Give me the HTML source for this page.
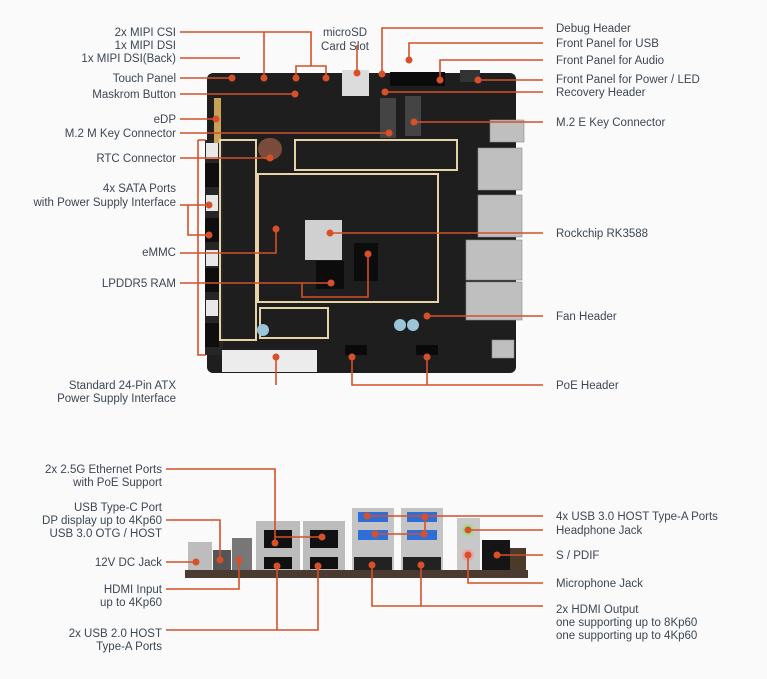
<!DOCTYPE html>
<html><head><meta charset="utf-8"><style>
html,body{margin:0;padding:0;background:#fafafa;}
svg{display:block;}
text{font-family:"Liberation Sans",sans-serif;font-size:11.5px;fill:#3b4753;}
.r{text-anchor:end}
.m{text-anchor:middle}
.l{stroke:#d2502a;stroke-width:1.6;fill:none}
.d{fill:#d8502a}
.g{fill:#bfbfbf;stroke:#8a8a8a;stroke-width:0.6}
.f{fill:none;stroke:#e6d3a8;stroke-width:2}
</style></head><body>
<svg width="767" height="679" viewBox="0 0 767 679" xmlns="http://www.w3.org/2000/svg">
<rect width="767" height="679" fill="#fafafa"/>
<!-- top board -->
<rect x="207" y="73" width="309" height="300" rx="6" fill="#1e1e1e"/>
<rect x="205" y="140" width="18" height="215" fill="#262626"/>
<g fill="#e8e8e8">
<rect x="206" y="143" width="12" height="16"/><rect x="206" y="195" width="12" height="16"/><rect x="206" y="250" width="12" height="16"/><rect x="206" y="300" width="12" height="16"/>
</g>
<g fill="#0e0e0e">
<rect x="205" y="163" width="14" height="24"/><rect x="205" y="218" width="14" height="24"/><rect x="205" y="268" width="14" height="24"/><rect x="205" y="323" width="14" height="24"/>
</g>
<rect x="214" y="98" width="7" height="45" fill="#c9a257"/>
<rect x="222" y="350" width="95" height="22" fill="#ececec"/>
<rect x="342" y="70" width="27" height="26" fill="#dcdcdc"/>
<rect x="380" y="98" width="16" height="40" fill="#444"/>
<rect x="405" y="96" width="16" height="40" fill="#444"/>
<rect x="390" y="72" width="55" height="14" fill="#0b0b0b"/>
<rect x="460" y="70" width="20" height="12" fill="#333"/>
<rect x="258" y="138" width="24" height="22" rx="11" fill="#7a4a3a"/>
<rect class="f" x="258" y="174" width="180" height="128"/>
<rect class="f" x="295" y="140" width="162" height="30"/>
<rect class="f" x="220" y="140" width="36" height="200"/>
<rect class="f" x="260" y="308" width="68" height="30"/>
<rect x="305" y="220" width="37" height="40" fill="#d0d0d0"/>
<rect x="316" y="261" width="28" height="28" fill="#0c0c0c"/>
<rect x="354" y="243" width="24" height="38" fill="#0c0c0c"/>
<g class="g">
<rect x="478" y="148" width="44" height="42"/><rect x="478" y="195" width="44" height="42"/>
<rect x="466" y="240" width="56" height="40"/><rect x="466" y="282" width="56" height="38"/>
<rect x="490" y="120" width="34" height="22"/><rect x="492" y="340" width="22" height="18"/>
</g>
<rect x="345" y="345" width="22" height="10" fill="#0a0a0a"/><rect x="416" y="345" width="22" height="10" fill="#0a0a0a"/>
<circle cx="400" cy="325" r="6" fill="#9bc5d8"/><circle cx="413" cy="325" r="6" fill="#9bc5d8"/><circle cx="263" cy="330" r="6" fill="#9bc5d8"/>
<!-- bottom board -->
<rect x="185" y="570" width="343" height="8" fill="#4a3a30"/>
<rect x="188" y="542" width="24" height="28" fill="#bdbdbd"/>
<rect x="213" y="550" width="18" height="20" fill="#555"/>
<rect x="232" y="538" width="20" height="32" fill="#777"/>
<rect x="256" y="521" width="44" height="49" fill="#bcbcbc"/>
<rect x="303" y="521" width="42" height="49" fill="#bcbcbc"/>
<rect x="264" y="530" width="28" height="18" fill="#111"/><rect x="310" y="530" width="28" height="18" fill="#111"/>
<rect x="264" y="557" width="28" height="12" fill="#111"/><rect x="310" y="557" width="28" height="12" fill="#111"/>
<rect x="352" y="508" width="42" height="62" fill="#c4c4c4"/><rect x="401" y="508" width="42" height="62" fill="#c4c4c4"/>
<rect x="358" y="512" width="30" height="10" fill="#2f6ed6"/><rect x="407" y="512" width="30" height="10" fill="#2f6ed6"/>
<rect x="358" y="530" width="30" height="10" fill="#2f6ed6"/><rect x="407" y="530" width="30" height="10" fill="#2f6ed6"/>
<rect x="354" y="557" width="38" height="13" fill="#222"/><rect x="403" y="557" width="38" height="13" fill="#222"/>
<rect x="457" y="518" width="23" height="52" fill="#c8c8c8"/>
<circle cx="468" cy="530" r="6" fill="#a8d98a"/><circle cx="468" cy="555" r="6" fill="#e7a8a8"/>
<rect x="482" y="540" width="28" height="30" fill="#151515"/>
<rect x="510" y="548" width="16" height="22" fill="#4a3a2a"/>
<!-- left labels top -->
<text class="r" x="176" y="36">2x MIPI CSI</text>
<text class="r" x="176" y="49">1x MIPI DSI</text>
<text class="r" x="176" y="62">1x MIPI DSI(Back)</text>
<text class="r" x="176" y="82">Touch Panel</text>
<text class="r" x="176" y="98">Maskrom Button</text>
<text class="r" x="176" y="123">eDP</text>
<text class="r" x="176" y="137">M.2 M Key Connector</text>
<text class="r" x="176" y="162">RTC Connector</text>
<text class="r" x="176" y="192">4x SATA Ports</text>
<text class="r" x="176" y="206">with Power Supply Interface</text>
<text class="r" x="176" y="256">eMMC</text>
<text class="r" x="176" y="287">LPDDR5 RAM</text>
<text class="r" x="176" y="389">Standard 24-Pin ATX</text>
<text class="r" x="176" y="402">Power Supply Interface</text>
<text class="m" x="345" y="36">microSD</text>
<text class="m" x="345" y="50">Card Slot</text>
<!-- right labels top -->
<text x="556" y="32">Debug Header</text>
<text x="556" y="47">Front Panel for USB</text>
<text x="556" y="64">Front Panel for Audio</text>
<text x="556" y="83">Front Panel for Power / LED</text>
<text x="556" y="96">Recovery Header</text>
<text x="556" y="126">M.2 E Key Connector</text>
<text x="556" y="237">Rockchip RK3588</text>
<text x="556" y="320">Fan Header</text>
<text x="556" y="389">PoE Header</text>
<!-- bottom labels -->
<text class="r" x="162" y="473">2x 2.5G Ethernet Ports</text>
<text class="r" x="162" y="486">with PoE Support</text>
<text class="r" x="162" y="511">USB Type-C Port</text>
<text class="r" x="162" y="524">DP display up to 4Kp60</text>
<text class="r" x="162" y="537">USB 3.0 OTG / HOST</text>
<text class="r" x="162" y="566">12V DC Jack</text>
<text class="r" x="162" y="593">HDMI Input</text>
<text class="r" x="162" y="606">up to 4Kp60</text>
<text class="r" x="162" y="637">2x USB 2.0 HOST</text>
<text class="r" x="162" y="650">Type-A Ports</text>
<text x="556" y="520">4x USB 3.0 HOST Type-A Ports</text>
<text x="556" y="534">Headphone Jack</text>
<text x="556" y="559">S / PDIF</text>
<text x="556" y="587">Microphone Jack</text>
<text x="556" y="613">2x HDMI Output</text>
<text x="556" y="626">one supporting up to 8Kp60</text>
<text x="556" y="639">one supporting up to 4Kp60</text>
<!-- lines top-left -->
<path class="l" d="M180 32H264V78 M180 58H240 M296 78V66H326V78 M311 66V32H180 M180 78H232 M180 94H295 M180 119H216 M180 133H389 M180 158H270 M180 205H188 M188 205V235H209 M188 205H209 M180 253H276V229 M180 283H331 M302 283V297H368V254 M276 385V357 M357 45V73 M198 140V355H206 M198 140H206"/>
<g class="d">
<circle cx="264" cy="78" r="3.5"/><circle cx="296" cy="78" r="3.5"/><circle cx="326" cy="78" r="3.5"/><circle cx="232" cy="78" r="3.5"/><circle cx="295" cy="94" r="3.5"/><circle cx="216" cy="119" r="3.5"/><circle cx="389" cy="133" r="3.5"/><circle cx="270" cy="158" r="3.5"/><circle cx="209" cy="205" r="3.5"/><circle cx="209" cy="235" r="3.5"/><circle cx="276" cy="229" r="3.5"/><circle cx="331" cy="283" r="3.5"/><circle cx="368" cy="254" r="3.5"/><circle cx="276" cy="357" r="3.5"/><circle cx="357" cy="73" r="3.5"/>
</g>
<!-- lines top-right -->
<path class="l" d="M543 28H382V74 M543 43H409V60 M543 60H440V80 M543 80H478 M543 92H385 M543 122H414 M543 233H330 M543 316H427 M543 385H352V357 M427 385V357"/>
<g class="d">
<circle cx="382" cy="74" r="3.5"/><circle cx="409" cy="60" r="3.5"/><circle cx="440" cy="80" r="3.5"/><circle cx="478" cy="80" r="3.5"/><circle cx="385" cy="92" r="3.5"/><circle cx="414" cy="122" r="3.5"/><circle cx="330" cy="233" r="3.5"/><circle cx="427" cy="316" r="3.5"/><circle cx="352" cy="357" r="3.5"/><circle cx="427" cy="357" r="3.5"/>
</g>
<!-- bottom lines -->
<path class="l" d="M166 469H275V543 M275 537H322 M166 520H220V560 M166 562H196 M166 589H239V560 M277 566V630H318V566 M166 630H277 M543 516H367 M425 517V534H375 M543 530H468 M543 555H497 M543 583H468V555 M372 565V606H421V565 M543 606H421"/>
<g class="d">
<circle cx="275" cy="543" r="3.5"/><circle cx="322" cy="537" r="3.5"/><circle cx="220" cy="560" r="3.5"/><circle cx="196" cy="562" r="3.5"/><circle cx="239" cy="560" r="3.5"/><circle cx="277" cy="566" r="3.5"/><circle cx="318" cy="566" r="3.5"/><circle cx="367" cy="516" r="3.5"/><circle cx="425" cy="517" r="3.5"/><circle cx="375" cy="534" r="3.5"/><circle cx="424" cy="534" r="3.5"/><circle cx="468" cy="530" r="3.5"/><circle cx="497" cy="555" r="3.5"/><circle cx="468" cy="555" r="3.5"/><circle cx="372" cy="565" r="3.5"/><circle cx="421" cy="565" r="3.5"/>
</g>
</svg>
</body></html>
